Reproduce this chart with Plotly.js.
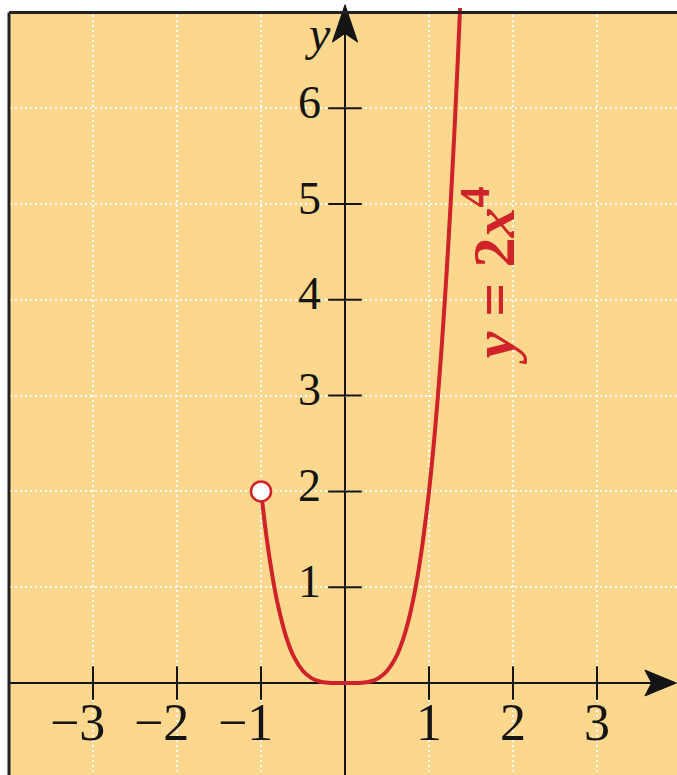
<!DOCTYPE html>
<html>
<head>
<meta charset="utf-8">
<script src="https://cdn.plot.ly/plotly-3.0.1.min.js"></script>
<style>
  html, body { margin: 0; padding: 0; background: #ffffff; }
  #chart { width: 677px; height: 775px; }
</style>
</head>
<body>
<div id="chart"></div>
<script>
// Sample points of y = 2x^4 on -1 <= x <= 1.37
const curveX = [-1, -0.95, -0.9, -0.85, -0.8, -0.7, -0.6, -0.5, -0.4, -0.3, -0.2, -0.1, 0,
                0.1, 0.2, 0.3, 0.4, 0.5, 0.6, 0.7, 0.8, 0.9, 1, 1.05, 1.1, 1.15, 1.2, 1.25, 1.3, 1.35, 1.37];
const curveY = [2, 1.629, 1.312, 1.044, 0.819, 0.480, 0.259, 0.125, 0.051, 0.016, 0.003, 0.0002, 0,
                0.0002, 0.003, 0.016, 0.051, 0.125, 0.259, 0.480, 0.819, 1.312, 2, 2.431, 2.928, 3.498, 4.147, 4.883, 5.712, 6.643, 7.046];

// Excluded endpoint (open circle)
const openX = [-1];
const openY = [2];

// Tick positions and labels
const xTicks = [-3, -2, -1, 1, 2, 3];
const xTickText = ['\u22123', '\u22122', '\u22121', '1', '2', '3'];
const yTicks = [1, 2, 3, 4, 5, 6];
const yTickText = ['1', '2', '3', '4', '5', '6'];

// Grid positions
const xGrid = [-3, -2, -1, 1, 2, 3];
const yGrid = [1, 2, 3, 4, 5, 6];

const curveLabel = '<b><i>y</i> = 2<i>x</i><sup>4</sup></b>';

const RED = '#cf2229';
const BG = '#fbd88e';
const INK = '#141414';
const SERIF = '"Liberation Serif", "DejaVu Serif", serif';

const xRange = [-345 / 84, (677 - 345) / 84];
const yRange = [-92 / 95.8, 683 / 95.8];

const traces = [
  {
    x: curveX, y: curveY, type: 'scatter', mode: 'lines',
    line: { color: RED, width: 4, shape: 'spline', smoothing: 0.6 },
    hoverinfo: 'skip'
  },
  {
    x: xTicks, y: xTicks.map(() => 0), type: 'scatter', mode: 'markers',
    marker: { symbol: 'line-ns-open', size: 24, color: INK, line: { color: INK, width: 2 } },
    hoverinfo: 'skip'
  },
  {
    x: yTicks.map(() => 0), y: yTicks, type: 'scatter', mode: 'markers',
    marker: { symbol: 'line-ew-open', size: 24, color: INK, line: { color: INK, width: 2 } },
    hoverinfo: 'skip'
  },
  {
    x: openX, y: openY, type: 'scatter', mode: 'markers',
    marker: { symbol: 'circle', size: 20, color: '#ffffff', line: { color: RED, width: 2.5 } },
    hoverinfo: 'skip'
  }
];

const annotations = [];
xTicks.forEach((v, i) => {
  const neg = v < 0;
  annotations.push({
    x: v, y: -0.41, xref: 'x', yref: 'y', text: xTickText[i], showarrow: false,
    xanchor: neg ? 'right' : 'center', xshift: neg ? 14 : 0,
    font: { family: SERIF, size: 52, color: INK }
  });
});
yTicks.forEach((v, i) => {
  annotations.push({
    x: 0, y: v, xref: 'x', yref: 'y', text: yTickText[i], showarrow: false,
    xanchor: 'right', xshift: -22, yshift: 6,
    font: { family: SERIF, size: 46, color: INK }
  });
});
annotations.push({
  x: 0, y: 6.78, xref: 'x', yref: 'y', text: '<i>y</i>', showarrow: false,
  xanchor: 'right', xshift: -12,
  font: { family: SERIF, size: 48, color: INK }
});
annotations.push({
  x: 1.72, y: 4.26, xref: 'x', yref: 'y', text: curveLabel, showarrow: false,
  textangle: -90,
  font: { family: SERIF, size: 60, color: RED }
});

const shapes = [
  // panel fill
  { type: 'rect', xref: 'x', yref: 'y', x0: -4, x1: 6, y0: -3, y1: 7,
    fillcolor: BG, line: { width: 0 }, layer: 'below' },
  // axes
  { type: 'line', xref: 'x', yref: 'y', x0: -4, x1: 3.7, y0: 0, y1: 0,
    line: { color: INK, width: 2 }, layer: 'below' },
  { type: 'line', xref: 'x', yref: 'y', x0: 0, x1: 0, y0: -2, y1: 6.8,
    line: { color: INK, width: 2 }, layer: 'below' },
  // arrowheads
  { type: 'path', xref: 'x', yref: 'y',
    path: 'M 0 7.08 L 0.15 6.69 L 0 6.78 L -0.15 6.69 Z',
    fillcolor: INK, line: { color: INK, width: 1 }, layer: 'above' },
  { type: 'path', xref: 'x', yref: 'y',
    path: 'M 3.945 0 L 3.57 0.135 L 3.65 0 L 3.57 -0.135 Z',
    fillcolor: INK, line: { color: INK, width: 1 }, layer: 'above' },
  // panel border (left and top)
  { type: 'line', xref: 'x', yref: 'y', x0: -4, x1: -4, y0: -3, y1: 7,
    line: { color: '#222222', width: 3 }, layer: 'above' },
  { type: 'line', xref: 'x', yref: 'y', x0: -4, x1: 6, y0: 7, y1: 7,
    line: { color: '#222222', width: 3 }, layer: 'above' }
];

const layout = {
  width: 677, height: 775,
  margin: { l: 0, r: 0, t: 0, b: 0, pad: 0 },
  paper_bgcolor: '#ffffff',
  plot_bgcolor: '#ffffff',
  showlegend: false,
  xaxis: {
    range: xRange, fixedrange: true, zeroline: false, showline: false,
    tickvals: xGrid, showticklabels: false, ticks: '',
    showgrid: true, gridcolor: 'rgba(255,255,255,0.95)', gridwidth: 2, griddash: '2px,3px'
  },
  yaxis: {
    range: yRange, fixedrange: true, zeroline: false, showline: false,
    tickvals: yGrid, showticklabels: false, ticks: '',
    showgrid: true, gridcolor: 'rgba(255,255,255,0.95)', gridwidth: 2, griddash: '2px,3px'
  },
  shapes: shapes,
  annotations: annotations
};

Plotly.newPlot('chart', traces, layout, { displayModeBar: false, staticPlot: true });
</script>
</body>
</html>
